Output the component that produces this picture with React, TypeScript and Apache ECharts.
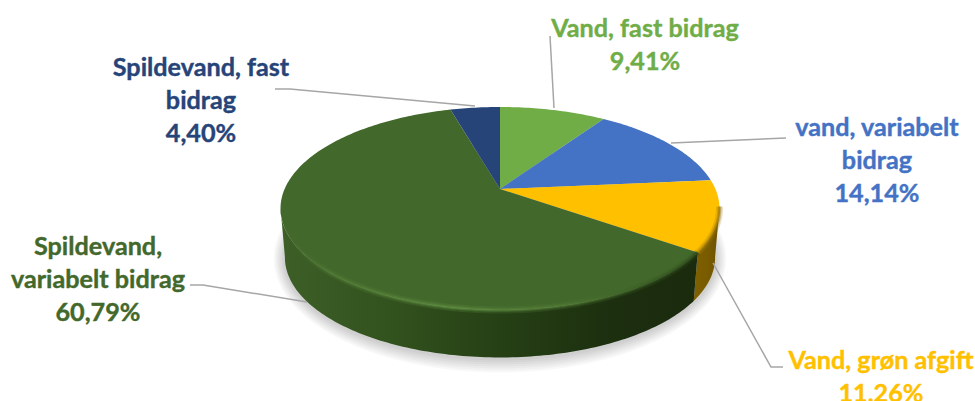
import React, { useEffect, useRef } from "react";
import * as echarts from "echarts";

const categories = [
  "Vand, fast bidrag",
  "vand, variabelt bidrag",
  "Vand, grøn afgift",
  "Spildevand, variabelt bidrag",
  "Spildevand, fast bidrag",
];
const shares = [9.41, 14.14, 11.26, 60.79, 4.4];
const labelLines = [
  ["Vand, fast bidrag"],
  ["vand, variabelt", "bidrag"],
  ["Vand, grøn afgift"],
  ["Spildevand,", "variabelt bidrag"],
  ["Spildevand, fast", "bidrag"],
];

const topColors = ["#70ad47", "#4472c4", "#ffc000", "#43682b", "#264478"];
const labelColors = ["#70ad47", "#4472c4", "#ffc000", "#43682b", "#264478"];

const labelLayout = [
  { x: 645, y: 43.5, line: [[550, 36], [554, 108]] },
  { x: 877, y: 159, line: [[671, 143], [786, 138]] },
  { x: 881, y: 375, line: [[713, 263], [771, 367], [783, 367]] },
  { x: 98, y: 278, line: [[190, 285], [203, 285], [307, 302]] },
  { x: 201, y: 99, line: [[275, 89], [290, 89], [475, 106]] },
];

// projection of the tilted disc
const CX = 500;
const CY = 189;
const SX = 215.4;
const SY = 97.76;
const K = -0.192;
const ELLIPSE_CY = 208;
const DEPTH = 49;
const BOTTOM_SX = 0.98;
const BOTTOM_SY = 0.985;
const LOWER_CY = ELLIPSE_CY + DEPTH;

const total = shares.reduce((a, b) => a + b, 0);
const startDeg = (i: number) =>
  (shares.slice(0, i).reduce((a, b) => a + b, 0) / total) * 360;

const project = (deg: number): [number, number] => {
  const t = (deg * Math.PI) / 180;
  const z = -Math.cos(t);
  const d = 1 + K * z;
  return [CX + (SX * Math.sin(t)) / d, CY + (SY * z) / d];
};
const lower = ([x, y]: [number, number]): [number, number] => [
  CX + (x - CX) * BOTTOM_SX,
  LOWER_CY + (y - ELLIPSE_CY) * BOTTOM_SY,
];
const arc = (a: number, b: number) => {
  const pts: [number, number][] = [];
  const n = Math.max(2, Math.ceil(Math.abs(b - a)));
  for (let i = 0; i <= n; i++) pts.push(project(a + ((b - a) * i) / n));
  return pts;
};

const WALL_FROM = 100.8;
const WALL_TO = 259.2;
const hGrad = (stops: [number, string][]) =>
  new (echarts.graphic as any).LinearGradient(
    280,
    0,
    720,
    0,
    stops.map(([offset, color]) => ({ offset, color })),
    true,
  );

const wallFills = () => [
  null,
  null,
  hGrad([[0.85, "#8a6a00"], [0.97, "#7a5c00"], [1, "#6b5000"]]),
  hGrad([
    [0, "#3d5f27"],
    [0.25, "#32521e"],
    [0.5, "#264015"],
    [0.75, "#1c2f0f"],
    [1, "#1a2a0d"],
  ]),
  null,
];
const rimFills = () => [
  null,
  null,
  hGrad([[0.9, "#c99a00"], [1, "#8f6c00"]]),
  hGrad([
    [0.02, "rgba(74,112,48,0)"],
    [0.1, "#4f7834"],
    [0.4, "#5f8f41"],
    [0.65, "#517a36"],
    [0.85, "#34561f"],
    [0.95, "#2a4518"],
    [1, "#2a4518"],
  ]),
  null,
];

const SHADOW_LAYERS = [14, 12, 10, 8, 6, 4, 2];

const renderShadow = () => ({
  type: "group",
  children: SHADOW_LAYERS.map((k) => ({
    type: "polygon",
    shape: {
      points: arc(0, 360)
        .map(lower)
        .map(([x, y]) => [
          CX + (x - CX) * (1 + (k * 0.8) / 215),
          LOWER_CY + (y - LOWER_CY) * (1 + k / 100) + 1,
        ]),
    },
    style: { fill: "rgba(0,0,0,0.028)" },
  })),
});

const renderWall = (params: any) => {
  const i = params.dataIndex;
  const fill = wallFills()[i];
  if (!fill) return { type: "group", children: [] };
  const a = Math.max(startDeg(i), WALL_FROM);
  const b = Math.min(startDeg(i + 1), WALL_TO);
  const top = arc(a, b);
  return {
    type: "polygon",
    shape: { points: [...top, ...top.map(lower).reverse()] },
    style: { fill },
  };
};

const renderTop = (params: any) => {
  const i = params.dataIndex;
  const a = startDeg(i);
  const b = startDeg(i + 1);
  const children: any[] = [
    {
      type: "polygon",
      shape: { points: [[CX, CY], ...arc(a, b)] },
      style: { fill: topColors[i] },
    },
  ];
  const rim = rimFills()[i];
  if (rim) {
    const from = Math.max(a, 100);
    const to = Math.min(b, 252);
    [
      { lw: 7, op: 0.22 },
      { lw: 4, op: 0.35 },
      { lw: 2, op: 0.5 },
    ].forEach(({ lw, op }) => {
      children.push({
        type: "polyline",
        shape: { points: arc(from, to) },
        style: { fill: "none", stroke: rim, lineWidth: lw, opacity: op },
      });
    });
  }
  return { type: "group", children };
};

const renderLabel = (params: any, api: any) => {
  const i = params.dataIndex;
  const layout = labelLayout[i];
  const pct = api.value(0).toFixed(2).replace(".", ",") + "%";
  return {
    type: "group",
    children: [
      {
        type: "polyline",
        shape: { points: layout.line },
        style: { fill: "none", stroke: "#a6a6a6", lineWidth: 1.5 },
      },
      {
        type: "text",
        style: {
          text: [...labelLines[i], pct].join("\n"),
          x: layout.x,
          y: layout.y,
          fill: labelColors[i],
          stroke: labelColors[i],
          lineWidth: 0.4,
          font: "bold 25.2px Lato",
          lineHeight: 33,
          align: "center",
          verticalAlign: "middle",
        },
      },
    ],
  };
};

const rows = categories.map((name, i) => ({ name, value: [shares[i]] }));

export default function App() {
  const ref = useRef<HTMLDivElement>(null);
  useEffect(() => {
    document.body.style.margin = "0";
    document.body.style.background = "#ffffff";
    const chart = echarts.init(ref.current!, undefined, { renderer: "svg" });
    const base = { type: "custom", coordinateSystem: "none", silent: true };
    chart.setOption({
      animation: false,
      backgroundColor: "#ffffff",
      series: [
        { ...base, z: 1, data: [{ name: "shadow", value: [total] }], renderItem: renderShadow },
        { ...base, z: 2, data: rows, renderItem: renderWall },
        { ...base, z: 3, data: rows, renderItem: renderTop },
        { ...base, z: 4, data: rows, renderItem: renderLabel },
      ],
    });
    return () => chart.dispose();
  }, []);
  return <div ref={ref} style={{ width: 975, height: 401 }} />;
}
